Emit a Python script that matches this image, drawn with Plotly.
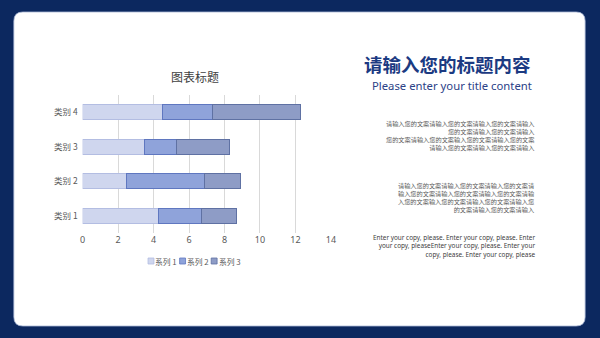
import plotly.graph_objects as go

W, H = 600, 338

categories = ["类别 1", "类别 2", "类别 3", "类别 4"]
series_names = ["系列 1", "系列 2", "系列 3"]
series1 = [4.3, 2.5, 3.5, 4.5]
series2 = [2.4, 4.4, 1.8, 2.8]
series3 = [2.0, 2.0, 3.0, 5.0]
x_ticks = [0, 2, 4, 6, 8, 10, 12, 14]

chart_title = "图表标题"
main_title = "请输入您的标题内容"
sub_title = "Please enter your title content"
para1 = ["请输入您的文案请输入您的文案请输入您的文案请输入",
         "您的文案请输入您的文案请输入",
         "您的文案请输入您的文案输入您的文案请输入您的文案",
         "请输入您的文案请输入您的文案请输入"]
para2 = ["请输入您的文案请输入您的文案请输入您的文案请",
         "输入您的文案请输入您的文案请输入您的文案请输",
         "入您的文案输入您的文案请输入您的文案请输入您",
         "的文案请输入您的文案请输入"]
para3 = ["Enter your copy, please. Enter your copy, please. Enter",
         "your copy, pleaseEnter your copy, please. Enter your",
         "copy, please. Enter your copy, please"]

fills = ["#cfd6ee", "#8fa3da", "#8e9cc6"]
lines = ["#b3bde2", "#5f77c0", "#5f71a3"]

def px(x):
    return x / W

def py(y):
    return 1 - y / H

fig = go.Figure()
for name, vals, fc, lc in zip(series_names, [series1, series2, series3], fills, lines):
    fig.add_trace(go.Bar(
        y=categories, x=vals, name=name, orientation="h",
        marker=dict(color=fc, line=dict(color=lc, width=1)),
        showlegend=False,
    ))

CJK = "Noto Sans CJK SC"

shapes = [
    dict(type="rect", xref="paper", yref="paper", x0=0, x1=1, y0=0, y1=1,
         fillcolor="#0c285f", line=dict(width=0), layer="below"),
]
# rounded white panel
x0, x1, y0, y1, r = 11, 590, 12, 326, 9
path = (f"M {px(x0+r)},{py(y0)} L {px(x1-r)},{py(y0)} "
        f"Q {px(x1)},{py(y0)} {px(x1)},{py(y0+r)} "
        f"L {px(x1)},{py(y1-r)} Q {px(x1)},{py(y1)} {px(x1-r)},{py(y1)} "
        f"L {px(x0+r)},{py(y1)} Q {px(x0)},{py(y1)} {px(x0)},{py(y1-r)} "
        f"L {px(x0)},{py(y0+r)} Q {px(x0)},{py(y0)} {px(x0+r)},{py(y0)} Z")
shapes.append(dict(type="path", xref="paper", yref="paper", path=path,
                   fillcolor="white", line=dict(color="#a9b8d6", width=0.8), layer="below"))

annotations = [
    dict(text=chart_title, x=px(195), y=py(77), xref="paper", yref="paper",
         showarrow=False, xanchor="center", yanchor="middle",
         font=dict(family=CJK, size=12, color="#404040")),
    dict(text=f"<b>{main_title}</b>", x=px(451), y=py(64), xref="paper", yref="paper",
         showarrow=False, xanchor="center", yanchor="middle",
         font=dict(family=CJK, size=18.5, color="#1b3a82")),
    dict(text=sub_title, x=px(455), y=py(85), xref="paper", yref="paper",
         showarrow=False, xanchor="center", yanchor="middle",
         font=dict(family="Noto Sans", size=11.3, color="#2b4287")),
    dict(text="<br>".join(para1), x=px(541), y=py(135.6), xref="paper", yref="paper",
         showarrow=False, xanchor="right", yanchor="middle", align="right",
         font=dict(family=CJK, size=6.2, color="#595959")),
    dict(text="<br>".join(para2), x=px(541), y=py(197), xref="paper", yref="paper",
         showarrow=False, xanchor="right", yanchor="middle", align="right",
         font=dict(family=CJK, size=6.2, color="#595959")),
    dict(text="<br>".join(para3), x=px(541), y=py(245.7), xref="paper", yref="paper",
         showarrow=False, xanchor="right", yanchor="middle", align="right",
         font=dict(family="Noto Sans", size=6.4, color="#404040")),
]

# compact legend (Excel-style) built from series names and colours
leg_x = [150, 182, 214]
leg_y = 261
for lx, name, fc, lc in zip(leg_x, series_names, fills, lines):
    shapes.append(dict(type="rect", xref="paper", yref="paper", layer="below",
                       x0=px(lx - 3), x1=px(lx + 3), y0=py(leg_y + 3), y1=py(leg_y - 3),
                       fillcolor=fc, line=dict(color=lc, width=0.8)))
    annotations.append(dict(text=name, x=px(lx + 3.5), y=py(leg_y), xref="paper", yref="paper",
                            showarrow=False, xanchor="left", yanchor="middle", borderpad=0,
                            font=dict(family=CJK, size=7.8, color="#595959")))

fig.update_layout(
    width=W, height=H,
    margin=dict(l=0, r=0, t=0, b=0),
    paper_bgcolor="#0c285f", plot_bgcolor="rgba(0,0,0,0)",
    barmode="stack", bargap=0.57,
    showlegend=False,
    xaxis=dict(domain=[px(80.7), px(332.3)], range=[0, 14], tickvals=x_ticks,
               showgrid=True, gridcolor="#d9d9d9", gridwidth=1, zeroline=False,
               showline=False, ticks="", tickfont=dict(family="Noto Sans", size=9, color="#595959")),
    yaxis=dict(domain=[py(233.3), py(94.7)], categoryorder="array", categoryarray=categories,
               showgrid=False, zeroline=False, showline=False, ticks="",
               ticklabelstandoff=4,
               tickfont=dict(family=CJK, size=8.5, color="#595959")),
    shapes=shapes, annotations=annotations,
    font=dict(family=CJK),
)

fig.write_html("out.html")
